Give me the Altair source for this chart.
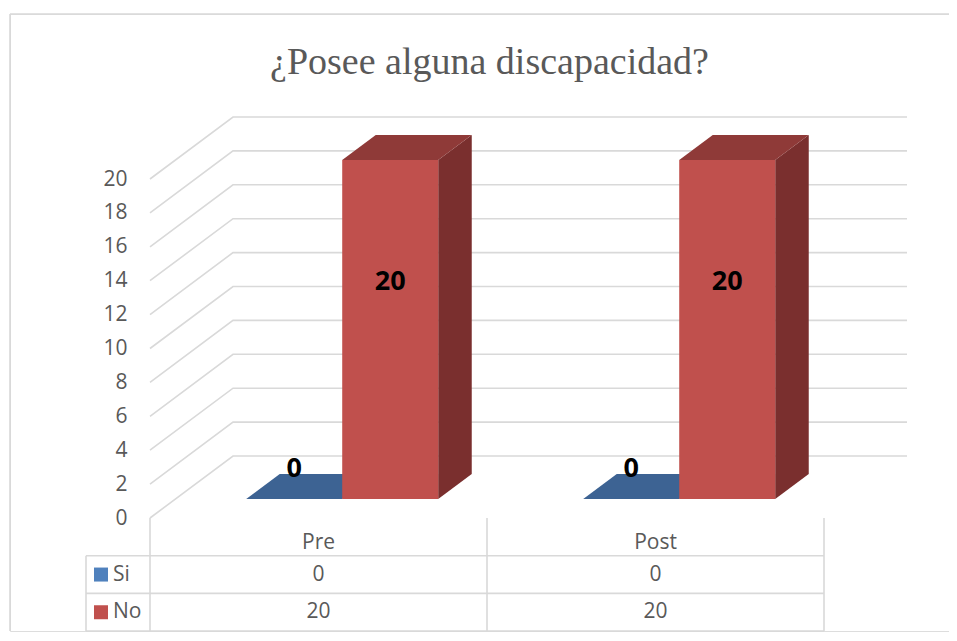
import altair as alt
import pandas as pd

# ---------------- data ----------------
categories = ["Pre", "Post"]
series = ["Si", "No"]
si_values = [0, 0]
no_values = [20, 20]
y_ticks = [0, 2, 4, 6, 8, 10, 12, 14, 16, 18, 20]
title_text = "¿Posee alguna discapacidad?"

values = {"Si": si_values, "No": no_values}

# ---------------- layout / style ----------------
KX = 337.0          # px per category
KY = 16.95          # px per value unit
DX = 83 / KX        # depth offset (x) of the back wall, in category units
DY = 62 / KY        # depth offset (y) of the back wall, in value units
D0, D1 = 0.306, 0.71  # bar front / back depth fraction
BW = 96 / KX        # bar width
GC = 0.495          # group centre within category
ROW = 37.7 / KY     # table row height in value units
LEG_W = 64 / KX     # legend column width
N = len(categories)

# plot area = chart frame; the 3D front origin sits 140px right / 504px below its top-left
XMIN, XMAX = -140 / KX, 799 / KX
YMIN, YMAX = -113 / KY, 504 / KY
WIDTH = round((XMAX - XMIN) * KX)
HEIGHT = round((YMAX - YMIN) * KY)

FRONT = {"Si": "#4F81BD", "No": "#C0504D"}
TOP = {"Si": "#3D6393", "No": "#8F3A38"}
SIDE = {"Si": "#385D8A", "No": "#7A2F2E"}
GRID = "#D9D9D9"
TEXT = "#595959"
FONT = "Open Sans"

xs = alt.Scale(domain=[XMIN, XMAX], nice=False, zero=False)
ys = alt.Scale(domain=[YMIN, YMAX], nice=False, zero=False)
y_axis = alt.Axis(values=y_ticks, domain=False, ticks=False, grid=False,
                  offset=-140, labelPadding=23, labelFont=FONT, labelFontSize=21,
                  labelColor=TEXT, title=None)


def X(f):
    return alt.X(f"{f}:Q", scale=xs, axis=None)


def Y(f):
    return alt.Y(f"{f}:Q", scale=ys, axis=y_axis, stack=None)


# ---------------- gridlines (3D wall) ----------------
grid_rows = []
for v in y_ticks:
    pts = [(0.0, v), (DX, v + DY), (N + DX, v + DY)]
    for k, (x, y) in enumerate(pts):
        grid_rows.append({"v": v, "k": k, "x": x, "y": y})
grid = alt.Chart(pd.DataFrame(grid_rows)).mark_line(color=GRID, strokeWidth=1.6).encode(
    x=X("x"), y=Y("y"), detail="v:N", order="k:Q",
)

# ---------------- bars ----------------
front_rows, top_rows, side_rows, lab_rows = [], [], [], []
for i, c in enumerate(categories):
    for j, s in enumerate(series):
        v = values[s][i]
        a = i + GC - BW + j * BW
        b = a + BW
        bid = f"{c}-{s}"
        front_rows.append({"col": FRONT[s], "x": a + D0 * DX, "x2": b + D0 * DX,
                           "y": D0 * DY, "y2": v + D0 * DY})
        for D in (D0, D1):
            top_rows.append({"id": bid, "col": TOP[s], "y": v + D * DY,
                             "x": a + D * DX, "x2": b + D * DX})
            side_rows.append({"id": bid, "col": SIDE[s], "x": b + D * DX,
                              "y": D * DY, "y2": v + D * DY})
        lab_rows.append({"x": (a + b) / 2 + D0 * DX,
                         "y": D0 * DY + 1.8 + 0.55 * v, "t": str(v)})

side = alt.Chart(pd.DataFrame(side_rows)).mark_area(orient="vertical").encode(
    x=X("x"), y=Y("y"), y2="y2", detail="id:N",
    color=alt.Color("col:N", scale=None),
)
top = alt.Chart(pd.DataFrame(top_rows)).mark_area(orient="horizontal").encode(
    y=Y("y"), x=X("x"), x2="x2", detail="id:N",
    color=alt.Color("col:N", scale=None),
)
front = alt.Chart(pd.DataFrame(front_rows)).mark_rect().encode(
    x=X("x"), x2="x2", y=Y("y"), y2="y2",
    color=alt.Color("col:N", scale=None),
)
labels = alt.Chart(pd.DataFrame(lab_rows)).mark_text(
    font=FONT, fontSize=27, fontWeight="bold", color="#000000", baseline="middle"
).encode(x=X("x"), y=Y("y"), text="t:N")

# ---------------- data table ----------------
rule_rows = []
for r in (1, 2, 3):
    rule_rows.append({"x": -LEG_W, "x2": float(N), "y": -r * ROW, "y2": -r * ROW})
rule_rows.append({"x": -LEG_W, "x2": -LEG_W, "y": -ROW, "y2": -3 * ROW})
for i in range(N + 1):
    rule_rows.append({"x": float(i), "x2": float(i), "y": 0.0, "y2": -3 * ROW})
rules = alt.Chart(pd.DataFrame(rule_rows)).mark_rule(color=GRID, strokeWidth=1.6).encode(
    x=X("x"), x2="x2", y=Y("y"), y2="y2"
)

cell_rows = []
for i, c in enumerate(categories):
    cell_rows.append({"x": i + 0.5, "y": -ROW * 0.66, "t": c})
    for j, s in enumerate(series):
        cell_rows.append({"x": i + 0.5, "y": -(j + 1.5) * ROW, "t": str(values[s][i])})
cells = alt.Chart(pd.DataFrame(cell_rows)).mark_text(
    font=FONT, fontSize=21, color=TEXT, baseline="middle"
).encode(x=X("x"), y=Y("y"), text="t:N")

leg_df = pd.DataFrame({"s": series,
                       "col": [FRONT[s] for s in series],
                       "y": [-(j + 1.5) * ROW for j in range(len(series))],
                       "xs": [-LEG_W + 15 / KX] * len(series),
                       "xt": [-LEG_W + 27 / KX] * len(series)})
swatch = alt.Chart(leg_df).mark_square(size=196, opacity=1).encode(
    x=X("xs"), y=Y("y"), color=alt.Color("col:N", scale=None),
)
leg_text = alt.Chart(leg_df).mark_text(
    font=FONT, fontSize=21, color=TEXT, align="left", baseline="middle"
).encode(x=X("xt"), y=Y("y"), text="s:N")

# ---------------- chart frame (top and left edges) ----------------
frame_df = pd.DataFrame([
    {"x": XMIN, "x2": XMAX, "y": YMAX, "y2": YMAX},
    {"x": XMIN, "x2": XMIN, "y": YMAX, "y2": YMIN},
])
frame = alt.Chart(frame_df).mark_rule(color=GRID, strokeWidth=1.6).encode(
    x=X("x"), x2="x2", y=Y("y"), y2="y2"
)

chart = alt.layer(
    frame, grid, rules, side, top, front, labels, cells, swatch, leg_text
).properties(
    width=WIDTH,
    height=HEIGHT,
    autosize=alt.AutoSizeParams(type="none"),
    padding={"left": 2, "top": 6, "right": 0, "bottom": 2},
    title=alt.TitleParams(
        title_text, font="Liberation Serif", fontSize=38, fontWeight="normal",
        color=TEXT, anchor="middle", dx=10, offset=-99, baseline="alphabetic",
    ),
).configure_view(stroke=None).configure(background="white")

chart.save("out.html", embed_options={"renderer": "svg", "actions": False})
